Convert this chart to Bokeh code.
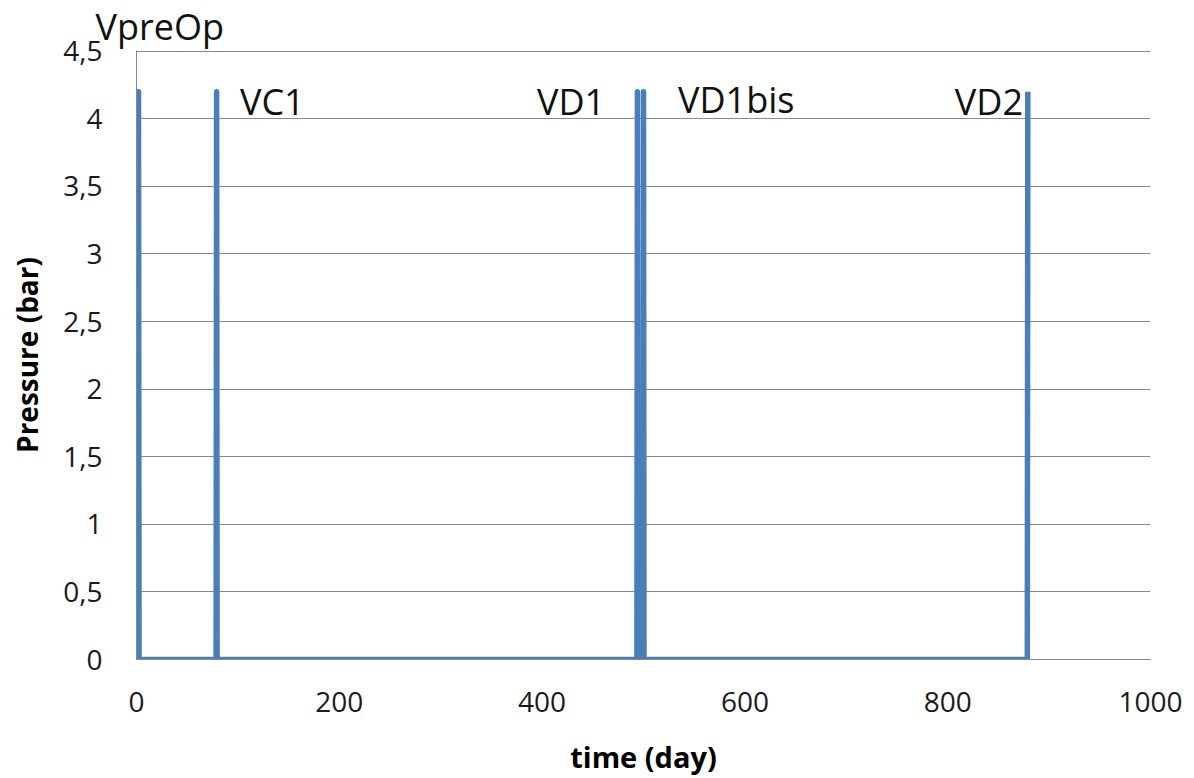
from bokeh.plotting import figure
from bokeh.models import Label, FixedTicker, Title
from bokeh.embed import file_html
from bokeh.resources import INLINE

# data
time_day = [1.5, 2, 2.5, 78.5, 79, 79.5, 493.5, 494, 494.5, 499.5, 500, 500.5, 878.5, 879]
pressure_bar = [0, 4.2, 0, 0, 4.2, 0, 0, 4.2, 0, 0, 4.2, 0, 0, 4.2]

label_text = ["VpreOp", "VC1", "VD1", "VD1bis", "VD2"]
label_x = [-41, 102, 395, 534, 807]
label_y = [4.61, 4.13, 4.13, 4.14, 4.13]

y_ticks = [0, 0.5, 1, 1.5, 2, 2.5, 3, 3.5, 4, 4.5]
y_tick_labels = ["0", "0,5", "1", "1,5", "2", "2,5", "3", "3,5", "4", "4,5"]
x_ticks = [0, 200, 400, 600, 800, 1000]

x_title = "time (day)"
y_title = "Pressure (bar)"

FONT = "Open Sans"
GRID = "#898989"

p = figure(width=1194, height=778, output_backend="svg", toolbar_location=None,
           x_range=(0, 1000), y_range=(0, 4.505),
           min_border_left=136, min_border_right=44, min_border_top=50, min_border_bottom=119)
p.outline_line_color = None
p.background_fill_color = "white"
p.border_fill_color = "white"

# first label sits above / left of the plot area -> drawn as the plot title
p.title = Title(text=label_text[0], align="left", offset=label_x[0], standoff=-5,
                vertical_align="top",
                text_font=FONT, text_font_size="36px", text_font_style="normal",
                text_color="#111111")

p.line(time_day, pressure_bar, line_color="#4A7EBB", line_width=5.5, line_join="round")

for t, lx, ly in zip(label_text[1:], label_x[1:], label_y[1:]):
    p.add_layout(Label(x=lx, y=ly, text=t, text_font=FONT, text_font_size="36px",
                       text_color="#111111", text_baseline="middle"))

p.xgrid.grid_line_color = None
p.ygrid.grid_line_color = GRID
p.ygrid.grid_line_width = 1

p.yaxis.ticker = FixedTicker(ticks=y_ticks)
p.yaxis.major_label_overrides = {t: l for t, l in zip(y_ticks, y_tick_labels)}
p.xaxis.ticker = FixedTicker(ticks=x_ticks)

for ax in (p.xaxis, p.yaxis):
    ax.axis_line_color = GRID
    ax.axis_line_width = 1
    ax.major_tick_line_color = None
    ax.minor_tick_line_color = None
    ax.major_label_text_font = FONT
    ax.major_label_text_font_size = "28px"
    ax.major_label_text_color = "#1a1a1a"
    ax.axis_label_text_font = FONT
    ax.axis_label_text_font_style = "bold"
    ax.axis_label_text_color = "#000000"

p.xaxis.axis_label = x_title
p.yaxis.axis_label = y_title
p.xaxis.major_label_standoff = 26
p.yaxis.major_label_standoff = 28
p.xaxis.axis_label_text_font_size = "29px"
p.yaxis.axis_label_text_font_size = "28px"
p.xaxis.axis_label_standoff = 22
p.yaxis.axis_label_standoff = 14

open("out.html", "w").write(file_html(p, INLINE))
